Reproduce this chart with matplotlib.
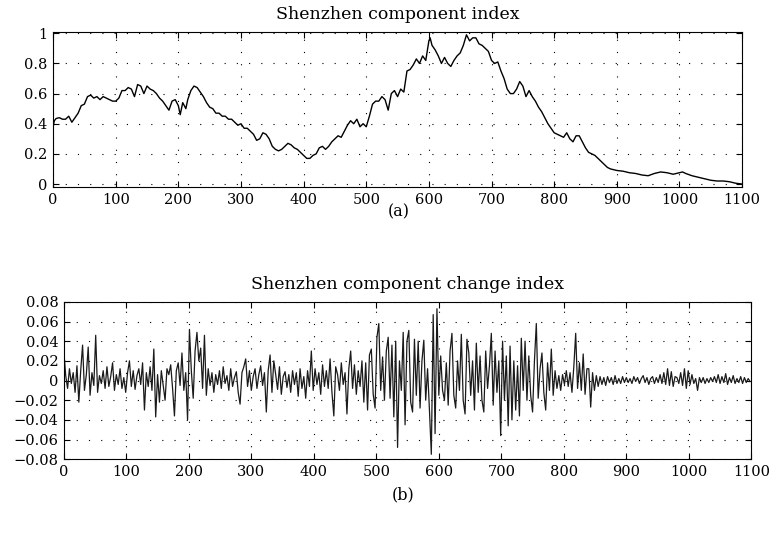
import matplotlib
matplotlib.use("Agg")
import matplotlib.pyplot as plt
import numpy as np

# ---- Data ----
index_t = [0, 2, 5, 10, 15, 20, 25, 30, 35, 40, 45, 50, 55, 60, 65, 70, 75, 80, 85, 90, 95,
           100, 105, 110, 115, 120, 125, 130, 135, 140, 145, 150, 155, 160, 165, 170, 175, 180, 185, 190, 195,
           200, 203, 207, 212, 215, 220, 225, 230, 235, 240, 245, 250, 255, 260, 265, 270, 275, 280, 285, 290, 295,
           300, 305, 310, 315, 320, 325, 330, 335, 340, 345, 350, 355, 360, 365, 370, 375, 380, 385, 390, 395,
           400, 405, 410, 415, 420, 425, 430, 435, 440, 445, 450, 455, 460, 465, 470, 475, 480, 485, 490, 495,
           500, 505, 510, 515, 520, 525, 530, 535, 540, 545, 550, 555, 560, 565, 570, 575, 580, 585, 590, 595,
           600, 602, 605, 610, 615, 620, 625, 630, 635, 640, 645, 650, 655, 660, 665, 670, 675, 680, 685, 690, 695,
           700, 705, 710, 715, 720, 725, 730, 735, 740, 745, 750, 755, 760, 765, 770, 775, 780, 785, 790, 795,
           800, 805, 810, 815, 820, 825, 830, 835, 840, 845, 850, 855, 860, 865, 870, 875, 880, 885, 890,
           900, 910, 920, 930, 940, 950, 960, 970, 980, 990, 1000, 1005, 1010, 1020, 1030, 1040, 1050,
           1060, 1070, 1080, 1090, 1100]
index_v = [0.38, 0.42, 0.435, 0.44, 0.43, 0.43, 0.45, 0.41, 0.44, 0.47, 0.52, 0.53, 0.58, 0.59, 0.57, 0.58, 0.56, 0.58, 0.57, 0.56, 0.55,
           0.55, 0.57, 0.62, 0.62, 0.64, 0.63, 0.58, 0.66, 0.65, 0.60, 0.65, 0.63, 0.62, 0.60, 0.57, 0.55, 0.52, 0.49, 0.55, 0.56,
           0.52, 0.46, 0.54, 0.50, 0.56, 0.62, 0.65, 0.64, 0.61, 0.58, 0.54, 0.51, 0.50, 0.47, 0.47, 0.45, 0.45, 0.43, 0.43, 0.41, 0.39,
           0.40, 0.37, 0.37, 0.35, 0.33, 0.29, 0.30, 0.34, 0.33, 0.30, 0.25, 0.23, 0.22, 0.23, 0.25, 0.27, 0.26, 0.24, 0.23, 0.21,
           0.19, 0.17, 0.17, 0.19, 0.20, 0.24, 0.25, 0.23, 0.25, 0.28, 0.30, 0.32, 0.31, 0.35, 0.39, 0.42, 0.40, 0.43, 0.38, 0.40,
           0.38, 0.45, 0.53, 0.55, 0.55, 0.58, 0.56, 0.49, 0.60, 0.62, 0.58, 0.63, 0.61, 0.75, 0.76, 0.79, 0.83, 0.80, 0.85, 0.82,
           0.95, 0.97, 0.92, 0.89, 0.85, 0.80, 0.84, 0.80, 0.78, 0.82, 0.85, 0.87, 0.92, 0.99, 0.95, 0.97, 0.97, 0.93, 0.92, 0.90, 0.88,
           0.82, 0.80, 0.81, 0.75, 0.70, 0.63, 0.60, 0.60, 0.63, 0.68, 0.65, 0.58, 0.62, 0.58, 0.55, 0.51, 0.48, 0.44, 0.40, 0.37,
           0.34, 0.33, 0.32, 0.31, 0.34, 0.30, 0.28, 0.32, 0.32, 0.28, 0.24, 0.21, 0.20, 0.19, 0.17, 0.15, 0.13, 0.11, 0.10,
           0.09, 0.085, 0.075, 0.07, 0.06, 0.055, 0.07, 0.08, 0.075, 0.065, 0.075, 0.08, 0.07, 0.055, 0.045, 0.035, 0.025,
           0.02, 0.02, 0.015, 0.005, 0.0]

# change index, sampled every 3 days, in thousandths
change_step = 3
change_milli = [
    30, 5, -8, 12, -3, 8, -12, 15, -22, 10, 36, -10, 6, 34, -15, 8, -5, 46, -12, 5,
    -3, 10, -8, 14, -6, 4, 18, -10, 6, -4, 12, -8, 3, -12, 8, 20, -6, 10, -9, 5,
    12, -4, 18, -30, 8, -6, 14, -10, 32, -37, 6, -22, 10, -5, -20, 12, 6, 16, -8, -36,
    10, 18, -5, 28, -10, 8, -40, 52, 10, -18, 30, 49, 20, 33, -8, 46, -15, 12, -5, 8,
    -12, 6, -4, 10, -8, 14, -3, 5, -10, 12, -6, 3, 9, -12, -24, 8, 14, 22, -6, 10,
    -10, 4, 12, -8, 6, 15, -5, 8, -32, 10, 26, -12, 20, 6, -9, 14, -14, 4, 9, -7,
    6, -12, 10, -4, 8, -16, 12, -8, 4, -18, 10, -6, 30, -10, 12, -4, 8, -14, 16, -6,
    10, -8, 22, -12, -36, 14, 6, -10, 18, -4, 8, -34, 12, 30, -8, 16, -14, 10, -6, 20,
    -22, 18, -30, 26, 32, -14, -28, 44, 58, -10, 24, -20, 30, 44, -18, 36, -37, 40, -68, 20,
    -10, 49, -45, 40, 51, -22, -32, 42, -15, 40, -28, 20, 41, -20, 12, -30, -75, 67, -54, 73,
    -15, 25, -10, -20, 18, -25, 30, 48, -15, -28, 20, -10, 47, -20, -34, 42, 28, -15, 20, -30,
    38, -12, 25, -20, -32, 30, -8, 15, 48, -25, 30, -12, 20, -56, 40, -20, 25, -46, 35, -40,
    20, -30, 15, -36, 43, -10, 40, -20, 25, -15, -32, 20, 58, -18, 12, 28, -12, -30, 18, -10,
    32, -15, 10, -8, 5, -10, 6, -4, 10, -6, 8, -12, 14, 48, -8, 18, -10, 27, -14, 12,
    12, -27, 8, -10, 5, -6, 4, -4, 3, -5, 4, -2, 3, -4, 5, -3, 2, -3, 4, -2,
    3, -2, 2, -3, 4, -1, 3, -3, 2, 5, -2, 3, -4, 2, 4, -3, 3, -2, 6, -3,
    8, -4, 12, -5, 9, -6, 4, 3, -3, 8, -5, 12, -8, 10, -4, 6, -3, 2, -10, 3,
    -2, 3, -3, 2, -2, 3, -1, 4, -2, 6, -3, 4, -2, 7, -4, 3, -2, 5, -3, 2,
    -2, 4, -3, 3, -2, 2, -1,
]

x_ticks = list(range(0, 1101, 100))
top_yticks = [0, 0.2, 0.4, 0.6, 0.8, 1]
top_ylabels = ["0", "0.2", "0.4", "0.6", "0.8", "1"]
bot_yticks = [-0.08, -0.06, -0.04, -0.02, 0, 0.02, 0.04, 0.06, 0.08]
bot_ylabels = ["\u22120.08", "\u22120.06", "\u22120.04", "\u22120.02", "0", "0.02", "0.04", "0.06", "0.08"]

plt.rcParams['font.family'] = ['DejaVu Serif']
plt.rcParams['font.size'] = 11

fig = plt.figure(figsize=(7.69, 5.39), dpi=100)
ax1 = fig.add_axes([0.069, 0.653, 0.896, 0.288])
ax2 = fig.add_axes([0.083, 0.148, 0.894, 0.292])

ax1.plot(index_t, index_v, color='black', lw=1.0)
ch_t = np.arange(len(change_milli)) * change_step
ch_v = np.array(change_milli) / 1000.0
ax2.plot(ch_t, ch_v, color='#1a1a1a', lw=0.9)

for ax, yt, yl, ylim in [(ax1, top_yticks, top_ylabels, (-0.02, 1.01)),
                          (ax2, bot_yticks, bot_ylabels, (-0.08, 0.08))]:
    ax.set_xlim(0, 1100)
    ax.set_ylim(*ylim)
    ax.set_xticks(x_ticks)
    ax.set_yticks(yt)
    ax.set_yticklabels(yl)
    ax.tick_params(direction='in', length=4, width=0.8, top=True, right=True, labelsize=10.5, pad=4)
    ax.grid(True, color='black', linestyle=(0, (1, 10)), lw=0.8)
    for s in ax.spines.values():
        s.set_linewidth(0.8)

ax1.set_title("Shenzhen component index", fontsize=12.5, pad=9)
ax2.set_title("Shenzhen component change index", fontsize=12.5, pad=9)
fig.text(0.518, 0.607, "(a)", ha='center', va='center', fontsize=11.5)
fig.text(0.524, 0.082, "(b)", ha='center', va='center', fontsize=11.5)

fig.savefig("out.png", dpi=100)
